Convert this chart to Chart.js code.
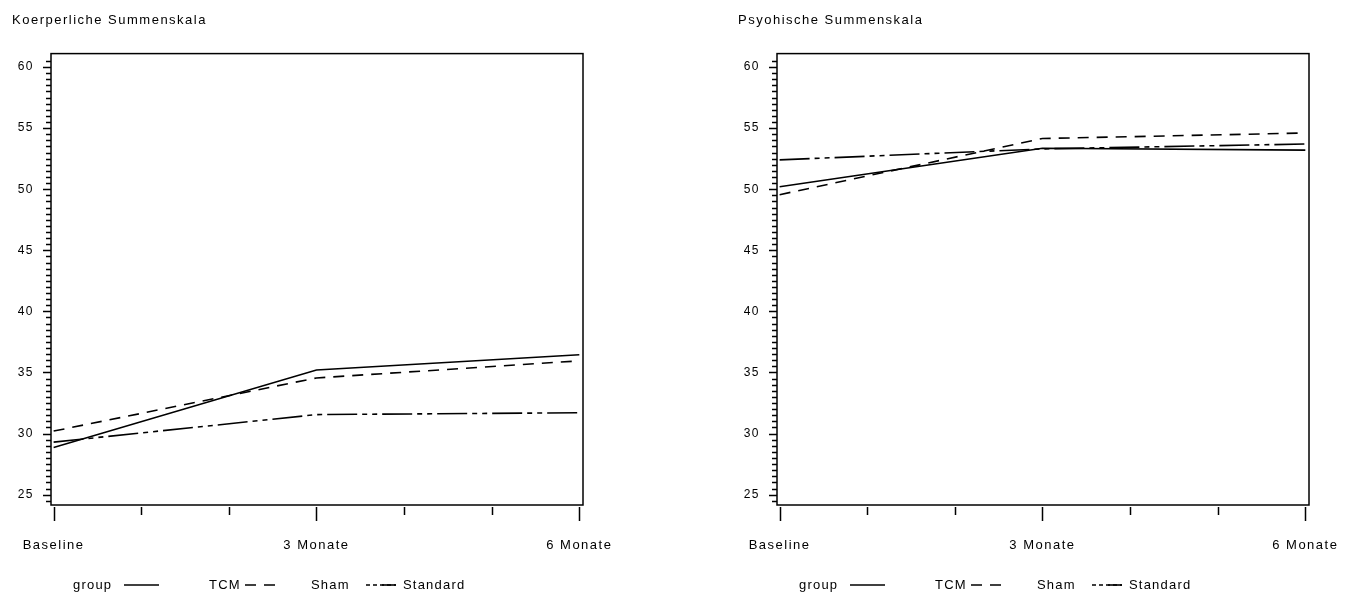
<!DOCTYPE html>
<html>
<head>
<meta charset="utf-8">
<script src="https://cdn.jsdelivr.net/npm/chart.js@4.4.0/dist/chart.umd.min.js"></script>
<style>
  body { margin: 0; background: #fff; }
  .panel { position: absolute; top: 0; width: 629px; height: 596px; }
</style>
</head>
<body>
<div class="panel" style="left:0px"><canvas id="physChart" width="629" height="596"></canvas></div>
<div class="panel" style="left:726px"><canvas id="psychChart" width="629" height="596"></canvas></div>
<script>
// months after start of treatment
const visitMonths = [0, 3, 6];
const tickMonths = [0, 1, 2, 3, 4, 5, 6];
const monthLabels = ['Baseline', '', '', '3 Monate', '', '', '6 Monate'];
const yTickValues = [25, 30, 35, 40, 45, 50, 55, 60];

const groupNames = ['TCM', 'Sham', 'Standard'];

// Koerperliche Summenskala
const tcmPhys = [28.85, 35.2, 36.45];
const shamPhys = [30.2, 34.55, 35.95];
const stdPhys = [29.3, 31.55, 31.7];

// Psychische Summenskala
const tcmPsych = [50.2, 53.35, 53.2];
const shamPsych = [49.55, 54.15, 54.6];
const stdPsych = [52.4, 53.3, 53.7];

const dashes = [[], [11, 8], [30, 5, 5, 5, 5, 5]];

Chart.defaults.font.family = "'Liberation Sans', Arial, sans-serif";
Chart.defaults.font.size = 13;
Chart.defaults.color = '#000';

const spacing = {
  id: 'spacing',
  beforeLayout(chart) { chart.ctx.letterSpacing = '1.5px'; },
  beforeDraw(chart) { chart.ctx.letterSpacing = '1.5px'; }
};

// frame, tick marks and the inline legend
const frame = {
  id: 'frame',
  afterDraw(chart) {
    const ctx = chart.ctx;
    const a = chart.chartArea;
    const xs = chart.scales.x;
    const ys = chart.scales.y;
    ctx.save();
    ctx.strokeStyle = '#000';
    ctx.lineWidth = 1.5;
    ctx.setLineDash([]);
    ctx.strokeRect(a.left, a.top, a.right - a.left, a.bottom - a.top);

    // y ticks: major every 5, minor every 0.5
    ctx.beginPath();
    for (let v = 24.5; v <= 60.5; v += 0.5) {
      const y = Math.round(ys.getPixelForValue(v)) + 0.5;
      const len = v % 5 === 0 ? 8 : 5;
      ctx.moveTo(a.left - len, y);
      ctx.lineTo(a.left, y);
    }
    ctx.stroke();

    // x ticks hang below the frame
    ctx.beginPath();
    tickMonths.forEach(m => {
      const x = Math.round(xs.getPixelForValue(m)) + 0.5;
      const len = monthLabels[m] ? 14 : 8;
      ctx.moveTo(x, a.bottom + 2);
      ctx.lineTo(x, a.bottom + 2 + len);
    });
    ctx.stroke();

    // legend: group label, then line sample and name per dataset
    const ly = 585;
    ctx.font = "13px 'Liberation Sans', Arial, sans-serif";
    ctx.letterSpacing = '1.2px';
    ctx.fillStyle = '#000';
    ctx.textBaseline = 'middle';
    ctx.textAlign = 'left';
    ctx.fillText('group', a.left + 22, ly);
    const samples = [[73, 108, 158], [194, 226, 260], [315, 345, 352]];
    chart.data.datasets.forEach((ds, i) => {
      const [x0, x1, tx] = samples[i];
      ctx.beginPath();
      ctx.lineWidth = ds.borderWidth;
      ctx.setLineDash(i === 2 ? [4, 3, 4, 3] : ds.borderDash);
      ctx.moveTo(a.left + x0, ly);
      ctx.lineTo(a.left + x1, ly);
      ctx.stroke();
      if (i === 2) {
        ctx.beginPath();
        ctx.setLineDash([]);
        ctx.moveTo(a.left + x0 + 16, ly);
        ctx.lineTo(a.left + x1, ly);
        ctx.stroke();
      }
      ctx.fillText(ds.label, a.left + tx, ly);
    });
    ctx.restore();
  }
};

function makePanel(id, title, series) {
  const datasets = series.map((vals, i) => ({
    label: groupNames[i],
    data: visitMonths.map((m, j) => ({ x: m, y: vals[j] })),
    borderColor: '#000',
    borderWidth: 1.6,
    borderDash: dashes[i],
    pointRadius: 0,
    tension: 0,
    fill: false
  }));

  return new Chart(document.getElementById(id), {
    type: 'line',
    data: { datasets: datasets },
    options: {
      responsive: false,
      animation: false,
      layout: { padding: { left: 12, right: 46, top: 0, bottom: 0 } },
      scales: {
        x: {
          type: 'linear',
          min: -0.03,
          max: 6.042,
          afterBuildTicks: axis => { axis.ticks = tickMonths.map(v => ({ value: v })); },
          afterFit: axis => { axis.height = 91; },
          // tick marks are drawn by the frame plugin; tickLength only spaces the labels
          grid: { display: false, drawTicks: true, tickLength: 33 },
          border: { display: false },
          ticks: {
            autoSkip: false,
            maxRotation: 0,
            padding: 0,
            callback: v => monthLabels[v]
          }
        },
        y: {
          min: 24.15,
          max: 61.1,
          afterBuildTicks: axis => { axis.ticks = yTickValues.map(v => ({ value: v })); },
          afterFit: axis => { axis.width = 39; },
          grid: { display: false, drawTicks: true, tickLength: 17 },
          border: { display: false },
          ticks: { padding: 0, font: { size: 12 } }
        }
      },
      plugins: {
        legend: { display: false },
        tooltip: { enabled: false },
        title: {
          display: true,
          text: title,
          align: 'start',
          font: { size: 13, weight: 'normal' },
          padding: { top: 13, bottom: 25 }
        }
      }
    },
    plugins: [spacing, frame]
  });
}

makePanel('physChart', 'Koerperliche Summenskala', [tcmPhys, shamPhys, stdPhys]);
makePanel('psychChart', 'Psyohische Summenskala', [tcmPsych, shamPsych, stdPsych]);
</script>
</body>
</html>
